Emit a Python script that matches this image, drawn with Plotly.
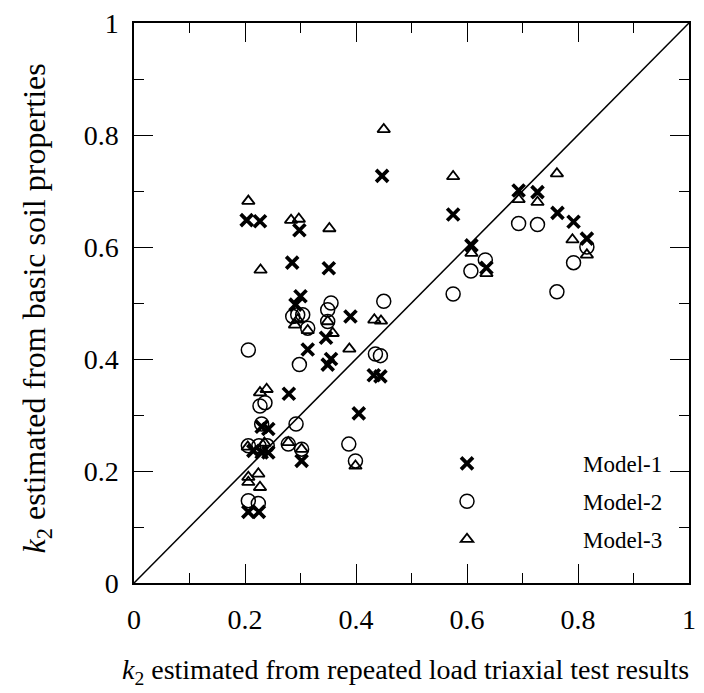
import plotly.graph_objects as go

# Model-1 (crosses)
m1_x = [0.203, 0.227, 0.298, 0.285, 0.351, 0.300, 0.291, 0.390, 0.346, 0.313, 0.355,
        0.349, 0.432, 0.444, 0.405, 0.279, 0.230, 0.242, 0.215, 0.230, 0.242, 0.302,
        0.206, 0.225, 0.447, 0.575, 0.608, 0.635, 0.693, 0.727, 0.763, 0.792, 0.816]
m1_y = [0.648, 0.646, 0.630, 0.572, 0.562, 0.512, 0.497, 0.476, 0.438, 0.417, 0.400,
        0.390, 0.371, 0.369, 0.303, 0.338, 0.279, 0.275, 0.236, 0.233, 0.233, 0.218,
        0.127, 0.127, 0.727, 0.658, 0.603, 0.563, 0.701, 0.698, 0.661, 0.645, 0.615]

# Model-2 (circles)
m2_x = [0.206, 0.355, 0.349, 0.286, 0.295, 0.304, 0.313, 0.349, 0.298, 0.450, 0.435,
        0.444, 0.227, 0.236, 0.230, 0.292, 0.206, 0.225, 0.240, 0.278, 0.302, 0.387,
        0.399, 0.206, 0.224, 0.575, 0.607, 0.633, 0.693, 0.727, 0.762, 0.792, 0.816]
m2_y = [0.416, 0.500, 0.488, 0.476, 0.479, 0.479, 0.455, 0.467, 0.390, 0.503, 0.409,
        0.406, 0.316, 0.322, 0.284, 0.284, 0.245, 0.245, 0.245, 0.248, 0.239, 0.248,
        0.218, 0.147, 0.142, 0.516, 0.557, 0.577, 0.642, 0.640, 0.520, 0.572, 0.600]

# Model-3 (triangles)
m3_x = [0.206, 0.283, 0.297, 0.352, 0.228, 0.290, 0.313, 0.295, 0.349, 0.358, 0.388,
        0.433, 0.445, 0.227, 0.239, 0.205, 0.235, 0.278, 0.302, 0.399, 0.206, 0.224,
        0.227, 0.206, 0.450, 0.575, 0.608, 0.635, 0.693, 0.727, 0.762, 0.790, 0.816]
m3_y = [0.682, 0.648, 0.650, 0.633, 0.559, 0.461, 0.451, 0.470, 0.467, 0.446, 0.418,
        0.470, 0.468, 0.340, 0.346, 0.243, 0.250, 0.251, 0.239, 0.209, 0.189, 0.195,
        0.171, 0.180, 0.810, 0.726, 0.589, 0.553, 0.685, 0.680, 0.731, 0.613, 0.586]

diag = [0, 1]
tick_vals = [0, 0.2, 0.4, 0.6, 0.8, 1]
tick_text = ["0", "0.2", "0.4", "0.6", "0.8", "1"]

x_title = "<i>k</i><sub>2</sub> estimated from repeated load triaxial test results"
y_title = "<i>k</i><sub>2</sub> estimated from basic soil properties"

FONT = "Liberation Serif"

fig = go.Figure()
fig.add_trace(go.Scatter(x=diag, y=diag, mode="lines",
                         line=dict(color="black", width=1.5), showlegend=False,
                         hoverinfo="skip"))
fig.add_trace(go.Scatter(x=m1_x, y=m1_y, mode="markers", name="Model-1", legendgroup="a",
                         marker=dict(symbol="x-thin-open", size=12, color="black",
                                     line=dict(color="black", width=3.7))))
fig.add_trace(go.Scatter(x=m2_x, y=m2_y, mode="markers", name="Model-2", legendgroup="b",
                         marker=dict(symbol="circle-open", size=14, color="black",
                                     line=dict(color="black", width=1.5))))
fig.add_trace(go.Scatter(x=m3_x, y=m3_y, mode="markers", name="Model-3", legendgroup="c",
                         marker=dict(symbol="triangle-up-open", size=11, color="black",
                                     line=dict(color="black", width=1.8))))

axis_common = dict(
    range=[0, 1], tickvals=tick_vals, ticktext=tick_text,
    ticks="inside", ticklen=19, tickwidth=1.2, tickcolor="black",
    minor=dict(dtick=0.1, ticks="inside", ticklen=10, tickwidth=1.2, tickcolor="black"),
    showline=True, linecolor="black", linewidth=1.5, mirror="ticks",
    showgrid=False, zeroline=False,
    tickfont=dict(family=FONT, size=28, color="black"),
)

fig.update_layout(
    width=704, height=693,
    margin=dict(l=134, r=8, t=20, b=110),
    plot_bgcolor="white", paper_bgcolor="white",
    font=dict(family=FONT, color="black"),
    xaxis=dict(**axis_common, ticklabelstandoff=11),
    yaxis=dict(**axis_common, ticklabelstandoff=8),
    legend=dict(x=0.391, y=0.252, xanchor="left", yanchor="top",
                bgcolor="rgba(0,0,0,0)", font=dict(family=FONT, size=23, color="black"),
                itemwidth=222, tracegroupgap=5),
    showlegend=True,
    annotations=[
        dict(text=x_title, xref="paper", yref="paper", x=0.49, y=-0.158,
             xanchor="center", yanchor="middle", showarrow=False,
             font=dict(family=FONT, size=28, color="black")),
        dict(text=y_title, xref="paper", yref="paper", x=-0.175, y=0.49,
             xanchor="center", yanchor="middle", showarrow=False, textangle=-90,
             font=dict(family=FONT, size=32, color="black")),
    ],
)

fig.write_html("out.html", config={"displayModeBar": False},
               post_script="document.body.style.margin='0';document.body.style.padding='0';")
